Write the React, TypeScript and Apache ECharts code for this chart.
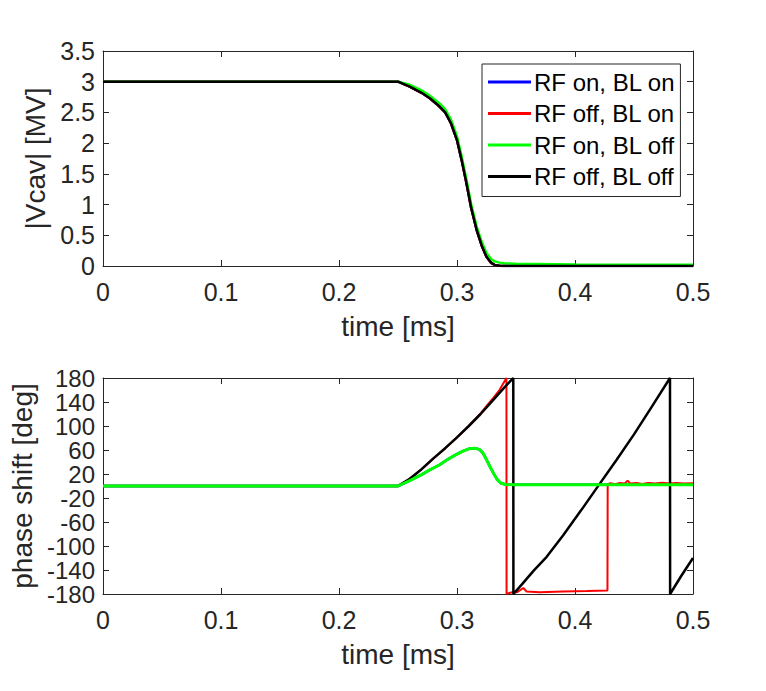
import React, { useEffect, useRef } from "react";
import * as echarts from "echarts";

// ---------- data ----------
const SERIES_NAMES = ["RF on, BL on", "RF off, BL on", "RF on, BL off", "RF off, BL off"];
const SERIES_COLORS = ["#0000ff", "#ff0000", "#00ff00", "#000000"];

const X_TICK_LABELS = ["0", "0.1", "0.2", "0.3", "0.4", "0.5"];
const Y_TOP_TICK_LABELS = ["0", "0.5", "1", "1.5", "2", "2.5", "3", "3.5"];
const Y_BOTTOM_TICK_LABELS = ["-180", "-140", "-100", "-60", "-20", "20", "60", "100", "140", "180"];

// top panel: |Vcav| [MV] vs time [ms]
const T_TOP = [0, 0.25, 0.26, 0.27, 0.277, 0.285, 0.29, 0.295, 0.3, 0.304, 0.308, 0.312, 0.3167, 0.321, 0.325, 0.329, 0.332, 0.336, 0.34, 0.35, 0.4, 0.5];
const V_RF_OFF_BL_OFF = [3, 3, 2.92, 2.82, 2.73, 2.6, 2.5, 2.32, 2.05, 1.72, 1.35, 0.95, 0.586, 0.33, 0.15, 0.05, 0.016, 0.004, 0, 0, 0, 0];
const V_RF_OFF_BL_ON = [3, 3, 2.92, 2.82, 2.73, 2.6, 2.5, 2.32, 2.05, 1.72, 1.35, 0.95, 0.586, 0.33, 0.15, 0.05, 0.016, 0.004, 0, 0, 0, 0];
const V_RF_ON_BL_ON = [3, 3, 2.92, 2.82, 2.73, 2.6, 2.5, 2.32, 2.05, 1.72, 1.35, 0.95, 0.586, 0.33, 0.15, 0.05, 0.016, 0.004, 0, 0, 0, 0];
const V_RF_ON_BL_OFF = [3, 3, 2.95, 2.86, 2.77, 2.65, 2.55, 2.38, 2.11, 1.78, 1.41, 1.01, 0.64, 0.39, 0.21, 0.11, 0.075, 0.055, 0.045, 0.035, 0.025, 0.02];

// bottom panel: phase shift [deg] vs time [ms]
const T_PH_BLACK = [0, 0.25, 0.26, 0.27, 0.28, 0.29, 0.3, 0.31, 0.32, 0.33, 0.34, 0.3477, 0.3478, 0.355, 0.365, 0.376, 0.39, 0.405, 0.42, 0.435, 0.45, 0.465, 0.4805, 0.4806, 0.49, 0.5];
const P_RF_OFF_BL_OFF = [0, 0, 12, 28, 46, 63, 81, 100, 120, 142, 164, 180, -180, -164, -141, -118, -82, -41, 1, 43, 86, 132, 180, -180, -150, -120];

const T_PH_RED = [0, 0.25, 0.26, 0.27, 0.28, 0.29, 0.3, 0.31, 0.32, 0.33, 0.336, 0.3419, 0.342, 0.343, 0.347, 0.351, 0.3562, 0.359, 0.37, 0.39, 0.41, 0.4275, 0.4277, 0.43, 0.434, 0.438, 0.442, 0.4446, 0.447, 0.452, 0.457, 0.462, 0.468, 0.474, 0.48, 0.486, 0.492, 0.5];
const P_RF_OFF_BL_ON = [0, 0, 12, 28, 46, 63, 81, 100, 121, 145, 160, 180, -180, -179, -177, -177, -170, -176, -177, -176, -175, -174, 3, 4.5, 3, 5, 4, 9, 4, 5, 3.5, 5, 4, 5.5, 4, 5, 4, 4.5];

const T_PH_GREEN = [0, 0.25, 0.26, 0.27, 0.277, 0.285, 0.291, 0.298, 0.305, 0.31, 0.315, 0.319, 0.322, 0.325, 0.328, 0.331, 0.334, 0.337, 0.341, 0.35, 0.4, 0.5];
const P_RF_ON_BL_OFF = [0, 0, 9, 19, 27, 35, 43, 51, 58, 62, 63, 61, 55, 44, 32, 21, 11, 5, 2.5, 2, 2, 2];
const P_RF_ON_BL_ON = [0, 0, 9, 19, 27, 35, 43, 51, 58, 62, 63, 61, 55, 44, 32, 21, 11, 5, 2.5, 2, 2, 2];

// ---------- helpers ----------
const zip = (xs: number[], ys: number[]) => xs.map((x, i) => [x, ys[i]]);
const FONT = "Liberation Sans, Arial, Helvetica, sans-serif";
const AXIS_COLOR = "#262626";

function xFmt(v: number) {
  const i = Math.round(v / 0.1);
  return X_TICK_LABELS[i] ?? "";
}
function yTopFmt(v: number) {
  const i = Math.round(v / 0.5);
  return Y_TOP_TICK_LABELS[i] ?? "";
}
// bottom y labels are split over two coincident axes (even / odd ticks) so that
// the library does not drop the tightly packed labels
function yBotFmtEven(v: number) {
  const i = Math.round((v + 180) / 40);
  return i % 2 === 0 ? Y_BOTTOM_TICK_LABELS[i] ?? "" : "";
}
function yBotFmtOdd(v: number) {
  const i = Math.round((v + 180) / 40);
  return i % 2 === 1 ? Y_BOTTOM_TICK_LABELS[i] ?? "" : "";
}

const axisLine = { show: true, onZero: false, lineStyle: { color: AXIS_COLOR, width: 1 } };
const axisTick = { show: true, inside: true, length: 6, lineStyle: { color: AXIS_COLOR, width: 1 } };

function makeX(gridIndex: number, position: "bottom" | "top", withLabels: boolean) {
  return {
    type: "value",
    gridIndex,
    position,
    min: 0,
    max: 0.5,
    interval: 0.1,
    axisLine,
    axisTick,
    splitLine: { show: false },
    axisLabel: withLabels
      ? {
          show: true,
          color: AXIS_COLOR,
          fontSize: 25,
          fontFamily: FONT,
          margin: 13,
          showMinLabel: true,
          showMaxLabel: true,
          formatter: xFmt,
        }
      : { show: false },
    name: withLabels ? "time [ms]" : "",
    nameLocation: "middle",
    nameGap: 46,
    nameTextStyle: { color: AXIS_COLOR, fontSize: 28, fontFamily: FONT },
  };
}

function makeY(
  gridIndex: number,
  position: "left" | "right",
  min: number,
  max: number,
  interval: number,
  fmt: ((v: number) => string) | null,
  name: string,
  nameGap: number,
  fontSize: number,
  drawLine: boolean
) {
  return {
    type: "value",
    gridIndex,
    position,
    min,
    max,
    interval,
    axisLine: drawLine ? axisLine : { show: false },
    axisTick: drawLine ? axisTick : { show: false },
    splitLine: { show: false },
    axisLabel: fmt
      ? {
          show: true,
          color: AXIS_COLOR,
          fontSize,
          fontFamily: FONT,
          margin: 8,
          showMinLabel: true,
          showMaxLabel: true,
          hideOverlap: false,
          formatter: fmt,
        }
      : { show: false },
    name,
    nameLocation: "middle",
    nameGap,
    nameRotate: 90,
    nameTextStyle: { color: AXIS_COLOR, fontSize: 28, fontFamily: FONT },
  };
}

function line(name: string, color: string, data: number[][], xi: number, yi: number, width: number) {
  return {
    type: "line",
    name,
    xAxisIndex: xi,
    yAxisIndex: yi,
    data,
    symbol: "none",
    showSymbol: false,
    color,
    itemStyle: { color },
    lineStyle: { color, width },
    z: 2,
  };
}

export default function App() {
  const ref = useRef<HTMLDivElement>(null);
  useEffect(() => {
    if (!ref.current) return;
    const chart = echarts.init(ref.current, undefined, { renderer: "svg" });
    const option = {
      animation: false,
      backgroundColor: "#ffffff",
      grid: [
        { left: 103, top: 51, width: 590, height: 215, containLabel: false },
        { left: 103, top: 378, width: 590, height: 216, containLabel: false },
      ],
      xAxis: [
        makeX(0, "bottom", true),
        makeX(0, "top", false),
        makeX(1, "bottom", true),
        makeX(1, "top", false),
      ],
      yAxis: [
        makeY(0, "left", 0, 3.5, 0.5, yTopFmt, "|Vcav| [MV]", 50, 25, true),
        makeY(0, "right", 0, 3.5, 0.5, null, "", 0, 25, true),
        makeY(1, "left", -180, 180, 40, yBotFmtEven, "phase shift [deg]", 67, 24, true),
        makeY(1, "right", -180, 180, 40, null, "", 0, 24, true),
        makeY(1, "left", -180, 180, 40, yBotFmtOdd, "", 0, 24, false),
      ],
      legend: {
        show: true,
        orient: "vertical",
        left: 482,
        top: 64,
        padding: [6, 5, 8, 6],
        itemWidth: 43,
        itemHeight: 3,
        itemGap: 7.5,
        icon: "rect",
        selectedMode: false,
        backgroundColor: "#ffffff",
        borderColor: AXIS_COLOR,
        borderWidth: 1,
        borderRadius: 0,
        textStyle: { color: "#000000", fontSize: 24, fontFamily: FONT, padding: [0, 0, 0, -2] },
        data: SERIES_NAMES,
      },
      series: [
        // top panel
        line(SERIES_NAMES[0], SERIES_COLORS[0], zip(T_TOP, V_RF_ON_BL_ON), 0, 0, 2.5),
        line(SERIES_NAMES[1], SERIES_COLORS[1], zip(T_TOP, V_RF_OFF_BL_ON), 0, 0, 2.5),
        line(SERIES_NAMES[2], SERIES_COLORS[2], zip(T_TOP, V_RF_ON_BL_OFF), 0, 0, 2.5),
        line(SERIES_NAMES[3], SERIES_COLORS[3], zip(T_TOP, V_RF_OFF_BL_OFF), 0, 0, 2.5),
        // bottom panel
        line(SERIES_NAMES[0], SERIES_COLORS[0], zip(T_PH_GREEN, P_RF_ON_BL_ON), 2, 2, 2.5),
        line(SERIES_NAMES[1], SERIES_COLORS[1], zip(T_PH_RED, P_RF_OFF_BL_ON), 2, 2, 2),
        line(SERIES_NAMES[3], SERIES_COLORS[3], zip(T_PH_BLACK, P_RF_OFF_BL_OFF), 2, 2, 2.5),
        line(SERIES_NAMES[2], SERIES_COLORS[2], zip(T_PH_GREEN, P_RF_ON_BL_OFF), 2, 2, 3),
      ],
    };
    chart.setOption(option as any);
    return () => chart.dispose();
  }, []);
  return (
    <div
      ref={ref}
      style={{ position: "fixed", left: 0, top: 0, width: 766, height: 691, background: "#fff" }}
    />
  );
}
